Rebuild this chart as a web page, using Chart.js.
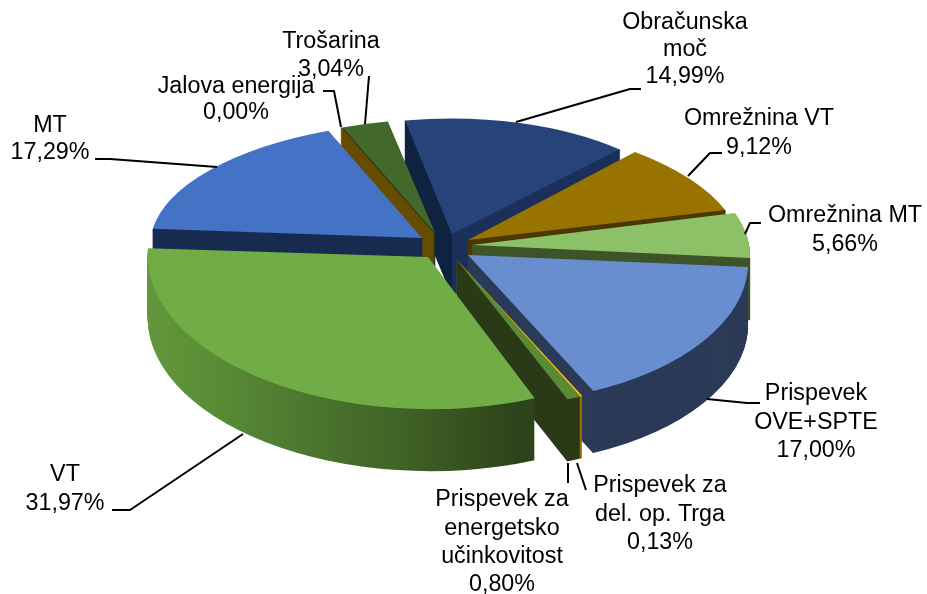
<!DOCTYPE html>
<html><head><meta charset="utf-8">
<style>html,body{margin:0;padding:0;background:#fff}#c{display:block}</style>
<script src="https://cdn.jsdelivr.net/npm/chart.js@4/dist/chart.umd.min.js"></script>
</head><body>
<div style="width:927px;height:594px"><canvas id="c" width="927" height="594"></canvas></div>
<script>
const categories = ["Obračunska\nmoč","Omrežnina VT","Omrežnina MT","Prispevek\nOVE+SPTE","Prispevek za\ndel. op. Trga","Prispevek za\nenergetsko\nučinkovitost","VT","MT","Jalova energija","Trošarina"];
const shares = [14.99,9.12,5.66,17.00,0.13,0.80,31.97,17.29,0.00,3.04];

const topColors  = ["#264478","#997300","#8cc168","#698ed0","#ffc000","#5a8a35","#70ad47","#4472c4","#7a5c00","#43682b"];
const rimColors  = ["#1a3058","#4b3800","#3d5428","#2b3a57","#9a7300","#2a3a17",null,"#172b50","#654c00","#2a3f1a"];
const wallStart  = ["#0f2240","#4b3800","#3d5428","#2b3a57","#9a7300","#2a3a17","#2d441a","#172b50","#654c00","#22351a"];
const wallEnd    = ["#1a3058","#4b3800","#3d5428","#2b3a57","#9a7300","#2a3a17","#2d441a","#172b50","#654c00","#22351a"];
const vtRimStops = [[0,"#6a9f43"],[0.25,"#5a8e36"],[0.5,"#4b752d"],[0.75,"#3e5f25"],[1,"#2d441a"]];

// Layout of the exploded, tilted pie (not data)
const pieCentre = [450,245];
const explode = [[2,-11],[18,-5],[22,0],[18,10],[7,15],[7,15],[-22,12],[-28,-7],[-16.5,-12],[-15,-12]];
const projection = [
  [.911,0,0,.428],[1.006,.092,-.002,.444],[1.026,.085,-.003,.473],[1.036,.071,-.015,.552],
  [1.036,.071,-.015,.552],[1.036,.071,-.015,.552],[1.037,.056,-.025,.563],[1.005,-.031,-.010,.432],
  [.915,0,0,.421],[.915,0,0,.421]];
const paintOrder = [0,9,8,7,1,2,3,4,5,6];
const depth = 62;
const startRotation = -11;
const baseRadius = 270;

const labelAnchors = [[685,23],[759,119],[845,216],[816,394],[660,486],[502,500],[65,475],[50,126],[236,87],[331,42]];
const labelSpacing = [27,29,29,28.5,28.5,28.3,29,27,26,28];
const leaders = [
  [[516,122],[630,89],[641,89]],
  [[688,176],[710,153],[722,153]],
  [[745,234],[750,223],[761,223]],
  [[707,399],[747,403],[760,403]],
  [[577,463],[586,490]],
  [[568,463],[568,483]],
  [[243,434],[130,510],[112,510]],
  [[217,167],[110,159],[95,159]],
  [[341,127],[334,91],[323,91]],
  [[365,124],[369,76]]
];

function withOptions(el, over, fn){
  const saved = el.options;
  const o = Object.create(saved);
  Object.assign(o, over);
  el.options = o; fn(); el.options = saved;
}
function applyProjection(ctx, i, el, dy){
  const m = projection[i], s = explode[i];
  ctx.translate(pieCentre[0]+s[0], pieCentre[1]+s[1]+dy);
  ctx.transform(m[0],m[2],m[1],m[3],0,0);
  ctx.translate(-el.x,-el.y);
}
function wall(ctx, i, el, angle, color){
  const r = el.outerRadius, m = projection[i], s = explode[i];
  const ax = pieCentre[0]+s[0], ay = pieCentre[1]+s[1];
  const ux = r*Math.cos(angle), uy = r*Math.sin(angle);
  const bx = ax + m[0]*ux + m[1]*uy, by = ay + m[2]*ux + m[3]*uy;
  ctx.fillStyle = color; ctx.strokeStyle = color; ctx.lineWidth = .5;
  ctx.beginPath(); ctx.moveTo(ax,ay); ctx.lineTo(bx,by); ctx.lineTo(bx,by+depth); ctx.lineTo(ax,ay+depth);
  ctx.closePath(); ctx.fill(); ctx.stroke();
}

const pie3d = {
  id:'pie3d',
  beforeDatasetDraw(chart){
    const ctx = chart.ctx, meta = chart.getDatasetMeta(0);
    paintOrder.forEach(i=>{
      const el = meta.data[i];
      const sweep = el.endAngle-el.startAngle;
      if (sweep>0){
        let fill = rimColors[i];
        if (!fill){
          fill = ctx.createLinearGradient(147,0,533,0);
          vtRimStops.forEach(s=>fill.addColorStop(s[0],s[1]));
        }
        for (let k=depth;k>=1;k--){
          ctx.save();
          applyProjection(ctx,i,el,k);
          withOptions(el,{backgroundColor:fill,borderColor:fill,borderWidth:0},()=>el.draw(ctx));
          ctx.restore();
        }
      }
      if (Math.cos(el.startAngle)<0) wall(ctx,i,el,el.startAngle,wallStart[i]);
      if (Math.cos(el.endAngle)>0 && sweep>0) wall(ctx,i,el,el.endAngle,wallEnd[i]);
      if (sweep>0){
        ctx.save();
        applyProjection(ctx,i,el,0);
        el.draw(ctx);
        ctx.restore();
      }
    });
    return false;
  },
  afterDraw(chart){
    const ctx = chart.ctx;
    ctx.save();
    ctx.strokeStyle='#000'; ctx.lineWidth=2; ctx.lineJoin='round';
    leaders.forEach(p=>{
      ctx.beginPath();
      p.forEach((q,j)=> j?ctx.lineTo(q[0],q[1]):ctx.moveTo(q[0],q[1]));
      ctx.stroke();
    });
    ctx.fillStyle='#000'; ctx.font='23.3px "Liberation Sans"'; ctx.textAlign='center'; ctx.textBaseline='middle';
    categories.forEach((c,i)=>{
      const lines = c.split("\n").concat([shares[i].toFixed(2).replace('.',',')+'%']);
      lines.forEach((t,j)=>ctx.fillText(t,labelAnchors[i][0],labelAnchors[i][1]+j*labelSpacing[i]));
    });
    ctx.restore();
  }
};

new Chart(document.getElementById('c'),{
  type:'pie',
  data:{labels:categories,datasets:[{data:shares,backgroundColor:topColors,borderWidth:0,radius:baseRadius}]},
  options:{
    responsive:false,animation:false,events:[],rotation:startRotation,
    layout:{padding:0},
    plugins:{legend:{display:false},tooltip:{enabled:false}}
  },
  plugins:[pie3d]
});
</script>
</body></html>
